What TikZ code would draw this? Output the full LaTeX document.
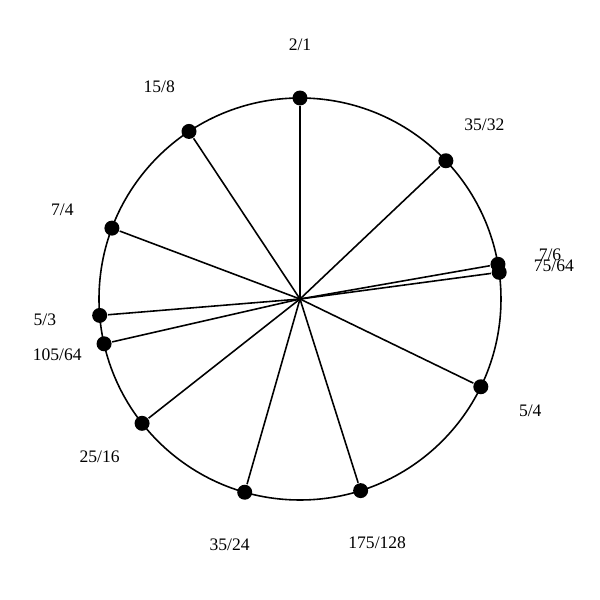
\documentclass[tikz,border=0pt]{standalone}
\usepackage{fontspec}
\setmainfont{Liberation Serif}
\begin{document}
\begin{tikzpicture}[line width=0.45pt,
    pitch/.style={circle,fill=black,inner sep=0pt,minimum size=0.15cm},
    ratio/.style={font=\fontsize{5}{6}\selectfont,inner sep=0pt}]
      \useasboundingbox (-3,-3.01) rectangle (3,2.99);
      \coordinate (c) at (0,0);
      \draw (c) circle (2.01);
      \draw
        (90.00:2.01) node[pitch] (0){}
        (43.46:2.01) node[pitch] (1){}
        (9.94:2.01) node[pitch] (2){}
        (7.63:2.01) node[pitch] (3){}
        (-25.89:2.01) node[pitch] (4){}
        (-72.44:2.01) node[pitch] (5){}
        (-105.96:2.01) node[pitch] (6){}
        (-141.79:2.01) node[pitch] (7){}
        (-167.13:2.01) node[pitch] (8){}
        (-175.31:2.01) node[pitch] (9){}
        (159.35:2.01) node[pitch] (10){}
        (123.52:2.01) node[pitch] (11){};
      \draw
        (90.00:2.54) node[ratio] (r0){2/1}
        (43.46:2.54) node[ratio] (r1){35/32}
        (10.10:2.54) node[ratio] (r2){7/6}
        (7.40:2.56) node[ratio] (r3){75/64}
        (-25.89:2.56) node[ratio] (r4){5/4}
        (-72.44:2.56) node[ratio] (r5){175/128}
        (-105.96:2.56) node[ratio] (r6){35/24}
        (-141.79:2.55) node[ratio] (r7){25/16}
        (-167.13:2.49) node[ratio] (r8){105/64}
        (-175.31:2.56) node[ratio] (r9){5/3}
        (159.35:2.54) node[ratio] (r10){7/4}
        (123.52:2.55) node[ratio] (r11){15/8};
      \begin{scope}[-]
        \draw (c) to (0);
        \draw (c) to (1);
        \draw (c) to (2);
        \draw (c) to (3);
        \draw (c) to (4);
        \draw (c) to (5);
        \draw (c) to (6);
        \draw (c) to (7);
        \draw (c) to (8);
        \draw (c) to (9);
        \draw (c) to (10);
        \draw (c) to (11);
      \end{scope}
    \end{tikzpicture}
\end{document}
